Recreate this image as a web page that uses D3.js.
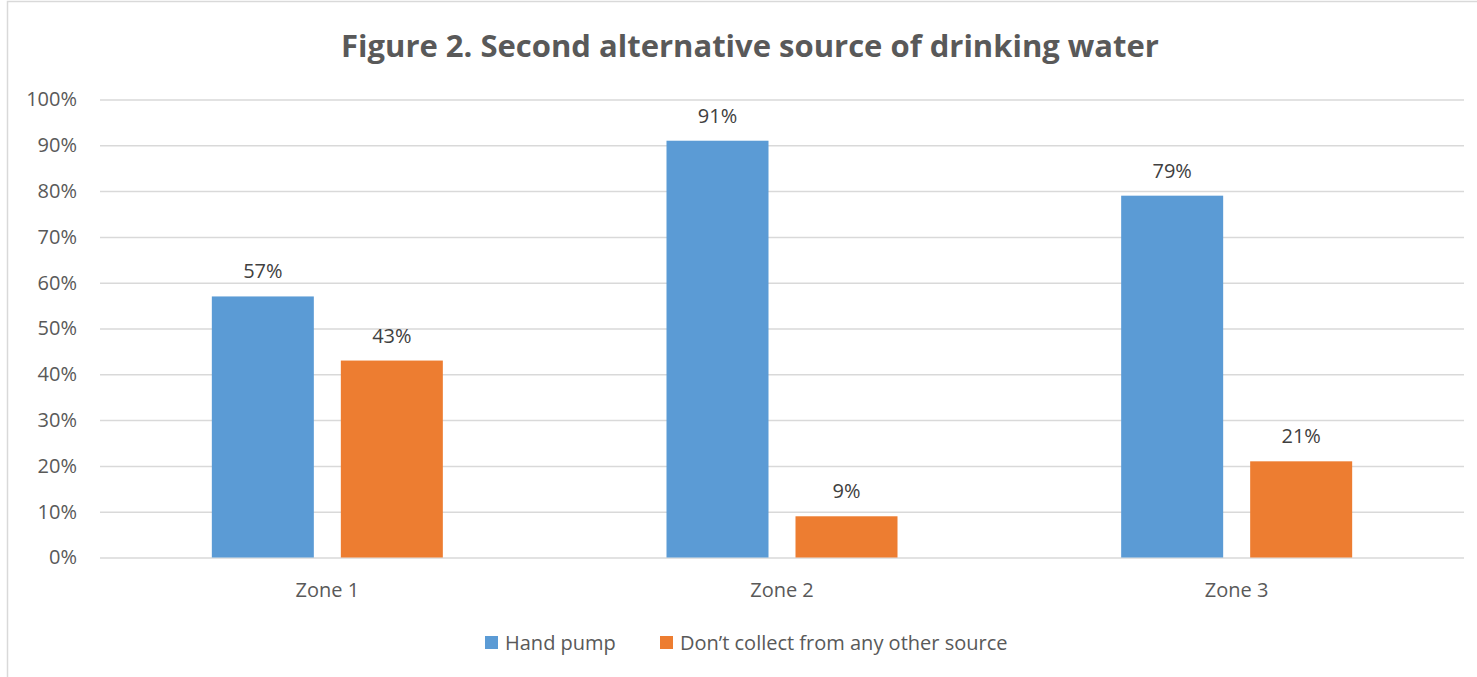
<!DOCTYPE html>
<html><head><meta charset="utf-8">
<script src="https://cdn.jsdelivr.net/npm/d3@7"></script>
<style>body{margin:0;background:#fff;} text{font-family:"Open Sans","Liberation Sans",sans-serif;}</style>
</head><body>
<svg id="c" width="1477" height="677"></svg>
<script>
const categories = ["Zone 1", "Zone 2", "Zone 3"];
const seriesNames = ["Hand pump", "Don\u2019t collect from any other source"];
const handPump = [57, 91, 79];
const dontCollect = [43, 9, 21];
const yTicks = [0,10,20,30,40,50,60,70,80,90,100];
const colors = ["#5B9BD5", "#ED7D31"];

(function(){
const svg = d3.select("#c");
svg.append("rect").attr("x",7.5).attr("y",1.5).attr("width",1480).attr("height",700)
  .attr("fill","#fff").attr("stroke","#d9d9d9").attr("stroke-width",1.5);

const pLeft=100, pRight=1464, pTop=99.5, pBottom=557.5;
const x = d3.scaleBand().domain(categories).range([pLeft,pRight]);
const y = d3.scaleLinear().domain([0,100]).range([pBottom,pTop]);
const barW = 102, gap = 27;
const fs = 20;

svg.append("text").attr("x",750).attr("y",57).attr("text-anchor","middle")
  .attr("font-size",31).attr("font-weight","bold").attr("fill","#595959")
  .text("Figure 2. Second alternative source of drinking water");

const yAxis = d3.axisLeft(y).tickValues(yTicks).tickFormat(d=>d+"%").tickSize(-(pRight-pLeft)).tickPadding(23);
const ga = svg.append("g").attr("transform",`translate(${pLeft},0)`).call(yAxis);
ga.select(".domain").remove();
ga.selectAll(".tick line").attr("stroke","#d9d9d9").attr("stroke-width",1.5);
ga.selectAll(".tick text").attr("font-size",fs).attr("fill","#595959").attr("font-family","Open Sans, Liberation Sans, sans-serif");

const xAxis = d3.axisBottom(x).tickSize(0).tickPadding(25);
const gx = svg.append("g").attr("transform",`translate(0,${pBottom})`).call(xAxis);
gx.select(".domain").remove();
gx.selectAll(".tick text").attr("font-size",fs).attr("fill","#595959").attr("font-family","Open Sans, Liberation Sans, sans-serif");

const series = [handPump, dontCollect];
series.forEach((vals, si) => {
  const off = si===0 ? -(gap/2 + barW) : gap/2;
  svg.append("g").selectAll("rect").data(vals).join("rect")
    .attr("x",(d,i)=>x(categories[i]) + x.bandwidth()/2 + off)
    .attr("y",d=>y(d)).attr("width",barW).attr("height",d=>y(0)-y(d))
    .attr("fill",colors[si]);
  svg.append("g").selectAll("text").data(vals).join("text")
    .attr("x",(d,i)=>x(categories[i]) + x.bandwidth()/2 + off + barW/2)
    .attr("y",d=>y(d)-18).attr("text-anchor","middle")
    .attr("font-size",fs).attr("fill","#404040").text(d=>d+"%");
});

const legend = svg.append("g");
const lx = [485, 660];
seriesNames.forEach((n,i)=>{
  legend.append("rect").attr("x",lx[i]).attr("y",636).attr("width",13).attr("height",13).attr("fill",colors[i]);
  legend.append("text").attr("x",lx[i]+20).attr("y",650).attr("font-size",fs).attr("fill","#595959").text(n);
});
})();
</script>
</body></html>
